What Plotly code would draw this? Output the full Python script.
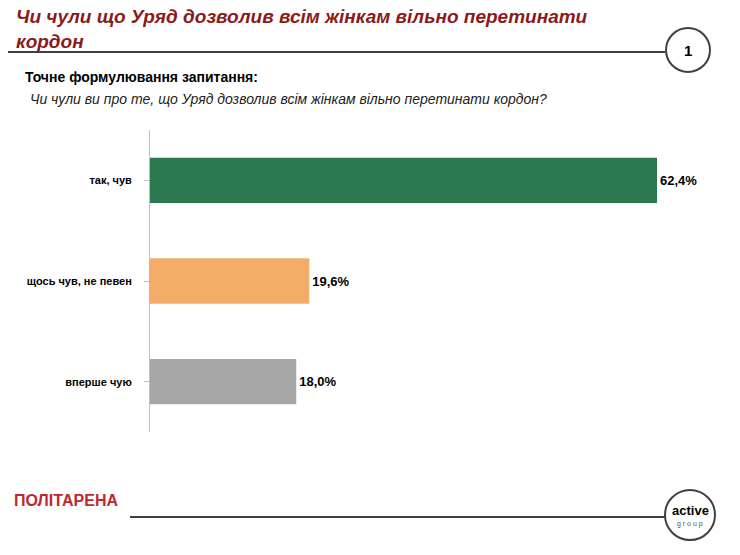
import plotly.graph_objects as go

categories = ["<b>так, чув</b>", "<b>щось чув, не певен</b>", "<b>вперше чую</b>"]
values = [62.4, 19.6, 18.0]
colors = ["#2b7a4f", "#f2ac68", "#a6a6a6"]
labels = [f"<b>{v:.1f}%</b>".replace(".", ",") for v in values]

# page has an 8px body margin, so target pixel positions are shifted by -8
OFF = 8
L, T, W, H = 150 - OFF, 130 - OFF, 585, 302


def px(x):
    return (x - OFF - L) / W


def py(y):
    return 1 - (y - OFF - T) / H


fig = go.Figure(go.Bar(
    y=categories, x=values, orientation="h",
    marker=dict(color=colors, line=dict(width=0)),
    text=labels, textposition="outside", cliponaxis=False,
    textfont=dict(family="Arial", size=13, color="#000000"),
    width=0.45,
))

fig.update_yaxes(autorange="reversed", showline=True, linecolor="#bfbfbf",
                 ticks="outside", ticklen=5, tickcolor="#bfbfbf",
                 tickfont=dict(family="Arial", size=11, color="#000"),
                 ticklabelstandoff=10, showgrid=False)
fig.update_xaxes(range=[0, 72], visible=False)

shapes = [
    dict(type="line", xref="paper", yref="paper", x0=px(8), x1=px(665), y0=py(52), y1=py(52),
         line=dict(color="#404040", width=2)),
    dict(type="circle", xref="paper", yref="paper", x0=px(666), x1=px(710),
         y0=py(72), y1=py(28), line=dict(color="#404040", width=2), fillcolor="white"),
    dict(type="line", xref="paper", yref="paper", x0=px(130), x1=px(665),
         y0=py(517), y1=py(517), line=dict(color="#404040", width=2)),
    dict(type="circle", xref="paper", yref="paper", x0=px(665), x1=px(715),
         y0=py(540), y1=py(490), line=dict(color="#404040", width=2), fillcolor="white"),
]


def ann(text, x, y, size, color="#000", **kw):
    return dict(text=text, xref="paper", yref="paper", x=px(x), y=py(y),
                showarrow=False, font=dict(family="Arial", size=size, color=color), **kw)


annotations = [
    ann("<b><i>Чи чули що Уряд дозволив всім жінкам вільно перетинати<br>кордон</i></b>", 14, 29, 19,
        "#8b1a1a", xanchor="left", yanchor="middle", align="left"),
    ann("<b>1</b>", 688, 50, 15, xanchor="center", yanchor="middle"),
    ann("<b>Точне формулювання запитання:</b>", 23, 77, 14, xanchor="left", yanchor="middle"),
    ann("<i>Чи чули ви про те, що Уряд дозволив всім жінкам вільно перетинати кордон?</i>", 28, 99, 14,
        "#222", xanchor="left", yanchor="middle"),
    ann("<b>ПОЛІТАРЕНА</b>", 12, 500, 16, "#c0282d", xanchor="left", yanchor="middle"),
    ann("<b>active</b>", 690, 510, 13, xanchor="center", yanchor="middle"),
    ann("g r o u p", 690, 524, 7, "#555", xanchor="center", yanchor="middle"),
]

fig.update_layout(
    width=740, height=555, plot_bgcolor="white", paper_bgcolor="white",
    margin=dict(l=L, r=740 - L - W, t=T, b=555 - T - H), showlegend=False,
    shapes=shapes, annotations=annotations,
)
fig.write_html("out.html")
